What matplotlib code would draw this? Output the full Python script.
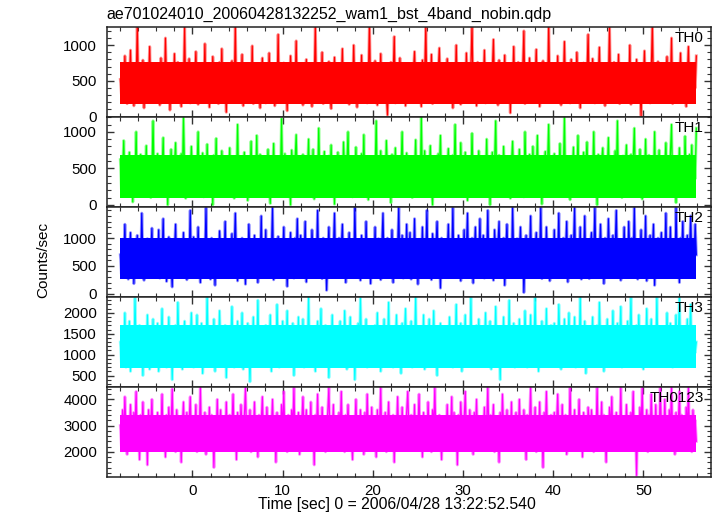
import numpy as np
import matplotlib
matplotlib.use('Agg')
import matplotlib.pyplot as plt
from matplotlib.ticker import MultipleLocator, FixedLocator

plt.rcParams['font.family'] = ['Liberation Sans', 'DejaVu Sans']

# light curves, counts/sec, one value every 0.125 s starting at t = -8 s
t_start = -8.0
dt = 0.125

th0 = [520, 310, 690, 240, 850, 400, 180, 620, 470, 930, 290, 560, 150, 740, 380, 1280, 440, 220, 610, 350, 790, 120, 510, 680, 260, 450, 980, 330, 570, 200, 710, 420,
       300, 650, 480, 160, 820, 370, 590, 250, 1100, 430, 270, 700, 90, 530, 640, 340, 880, 210, 460, 760, 310, 580, 140, 690, 400, 1250, 230, 520, 360, 810, 190, 470,
       620, 280, 540, 910, 330, 170, 720, 450, 260, 600, 380, 1020, 210, 490, 670, 130, 560, 300, 840, 410, 240, 630, 500, 180, 760, 350, 950, 270, 580, 430, 60, 690,
       380, 520, 230, 780, 460, 310, 1300, 200, 550, 650, 280, 420, 870, 150, 610, 370, 490, 720, 260, 540, 330, 990, 180, 460, 630, 250, 700, 400, 120, 570, 820, 340,
       470, 190, 640, 310, 890, 420, 260, 580, 700, 150, 510, 360, 1150, 280, 620, 440, 200, 750, 390, 530, 80, 660, 300, 850, 470, 220, 590, 380, 1060, 250, 480, 610,
       330, 700, 160, 540, 420, 800, 270, 630, 350, 490, 140, 730, 460, 1280, 220, 580, 400, 670, 300, 900, 180, 520, 620, 260, 450, 770, 340, 110, 600, 480, 830, 290,
       560, 240, 690, 380, 470, 950, 200, 610, 330, 520, 740, 170, 430, 640, 280, 1000, 390, 550, 130, 710, 460, 300, 860, 250, 580, 420, 680, 190, 500, 1300, 350, 620,
       410, 270, 780, 500, 160, 640, 360, 880, 230, 540, 450, 700, 310, 20, 590, 420, 760, 260, 530, 1120, 190, 480, 650, 340, 820, 280, 560, 400, 710, 150, 470, 600,
       300, 730, 450, 200, 620, 910, 340, 510, 250, 680, 410, 140, 790, 370, 560, 1270, 230, 490, 640, 310, 870, 180, 540, 420, 720, 260, 600, 960, 330, 450, 210, 660,
       490, 350, 810, 230, 570, 420, 700, 120, 630, 380, 1000, 270, 520, 460, 170, 740, 340, 610, 280, 890, 400, 550, 220, 680, 1300, 310, 480, 600, 150, 760, 390, 520,
       260, 640, 430, 930, 190, 560, 350, 720, 470, 240, 610, 1080, 320, 500, 680, 160, 790, 410, 280, 590, 450, 860, 210, 530, 370, 700, 50, 620, 440, 980, 300, 570,
       410, 760, 250, 540, 330, 650, 1200, 180, 480, 590, 310, 820, 420, 230, 700, 360, 520, 940, 270, 610, 140, 560, 450, 780, 320, 500, 680, 200, 1300, 390, 630, 350,
       540, 220, 690, 420, 850, 300, 580, 160, 720, 450, 1050, 260, 530, 380, 640, 190, 800, 470, 330, 590, 250, 900, 410, 680, 120, 560, 350, 750, 480, 210, 620, 1150,
       370, 600, 280, 810, 450, 190, 660, 390, 520, 970, 240, 570, 430, 700, 150, 630, 340, 480, 1260, 290, 550, 410, 760, 220, 600, 350, 870, 180, 510, 640, 300, 720,
       460, 250, 620, 380, 1000, 170, 550, 440, 690, 320, 800, 230, 580, 400, 10, 650, 470, 920, 270, 530, 360, 710, 190, 600, 1300, 310, 490, 640, 220, 770, 420, 560,
       330, 680, 450, 200, 590, 840, 290, 520, 410, 1100, 180, 630, 370, 740, 260, 560, 430, 890, 210, 600, 350, 680, 140, 520, 980, 310, 470, 620, 250, 710, 400, 850]

th1 = [620, 210, 450, 880, 300, 130, 560, 390, 720, 250, 470, 40, 610, 340, 1000, 180, 520, 410, 690, 270, 150, 580, 360, 810, 230, 490, 640, 100, 430, 1150, 310, 540,
       260, 700, 380, 160, 590, 450, 920, 200, 330, 650, 0, 480, 290, 760, 410, 140, 550, 850, 240, 620, 370, 180, 700, 300, 1200, 440, 90, 510, 660, 230, 380, 800,
       420, 150, 620, 330, 480, 1000, 220, 560, 360, 710, 110, 450, 260, 830, 390, 600, 170, 500, 0, 680, 340, 910, 250, 440, 570, 190, 740, 410, 130, 620, 300, 520,
       370, 780, 200, 540, 430, 90, 660, 310, 1100, 240, 480, 610, 160, 390, 720, 280, 520, 60, 640, 350, 870, 210, 460, 580, 300, 950, 150, 430, 690, 250, 510, 370,
       180, 600, 440, 760, 270, 20, 530, 380, 840, 230, 660, 420, 120, 570, 310, 1180, 260, 490, 700, 170, 400, 620, 330, 0, 750, 450, 210, 580, 960, 290, 470, 350,
       550, 240, 690, 380, 140, 610, 450, 900, 200, 520, 330, 760, 80, 480, 630, 270, 1050, 360, 190, 590, 420, 730, 250, 540, 130, 670, 390, 820, 300, 460, 10, 610,
       330, 720, 210, 480, 600, 160, 860, 390, 270, 550, 1000, 230, 440, 650, 110, 510, 370, 790, 260, 590, 180, 430, 700, 320, 960, 200, 560, 410, 70, 640, 350, 480,
       250, 580, 420, 1150, 190, 500, 340, 740, 130, 620, 380, 280, 880, 450, 210, 560, 30, 690, 400, 300, 780, 240, 510, 630, 160, 450, 1000, 290, 580, 360, 710, 180,
       470, 320, 650, 100, 540, 410, 890, 230, 370, 600, 170, 1200, 280, 500, 740, 350, 140, 590, 430, 810, 260, 0, 620, 380, 520, 200, 700, 460, 950, 240, 550, 330,
       610, 190, 480, 770, 300, 560, 120, 680, 400, 1100, 250, 430, 590, 160, 850, 330, 500, 220, 720, 390, 60, 600, 460, 280, 980, 350, 530, 180, 660, 410, 740, 270,
       420, 650, 150, 530, 360, 900, 240, 610, 0, 470, 720, 310, 560, 1150, 200, 440, 680, 270, 500, 130, 800, 380, 590, 230, 650, 410, 90, 560, 870, 320, 480, 210,
       580, 340, 760, 200, 490, 620, 110, 1000, 370, 530, 260, 690, 430, 170, 800, 300, 560, 400, 950, 220, 640, 350, 10, 580, 460, 730, 190, 520, 1100, 280, 610, 390,
       230, 700, 450, 140, 560, 380, 840, 260, 620, 410, 1200, 180, 500, 660, 320, 70, 590, 440, 790, 240, 530, 370, 950, 150, 610, 290, 480, 720, 200, 550, 860, 330,
       460, 190, 640, 380, 1000, 260, 520, 0, 690, 410, 230, 600, 780, 340, 140, 560, 450, 920, 280, 510, 650, 170, 430, 740, 360, 1150, 220, 580, 400, 100, 670, 310,
       540, 820, 250, 480, 370, 690, 160, 600, 1050, 300, 450, 560, 210, 760, 390, 80, 620, 340, 900, 250, 500, 680, 130, 440, 580, 320, 1000, 200, 530, 410, 750, 280,
       390, 610, 170, 520, 850, 330, 460, 240, 700, 1100, 190, 560, 420, 30, 640, 350, 780, 260, 500, 620, 160, 940, 380, 540, 270, 690, 430, 820, 220, 580, 360, 1050]

th2 = [700, 350, 980, 520, 1250, 430, 810, 260, 640, 1100, 380, 720, 180, 900, 560, 1050, 310, 780, 480, 1450, 620, 240, 860, 410, 990, 530, 290, 750, 1180, 460, 680, 340,
       920, 500, 1150, 280, 760, 610, 1350, 390, 840, 220, 680, 1020, 450, 570, 120, 880, 730, 1250, 360, 640, 980, 300, 790, 530, 1100, 420, 700, 250, 950, 600, 1500, 380,
       650, 1020, 310, 860, 470, 1200, 560, 200, 780, 950, 420, 690, 1550, 330, 870, 590, 260, 1000, 510, 760, 150, 920, 640, 400, 1130, 720, 350, 830, 580, 1300, 440, 680,
       290, 900, 620, 1080, 410, 750, 1450, 530, 230, 840, 680, 380, 1000, 560, 790, 170, 950, 470, 1250, 630, 310, 880, 520, 1050, 410, 740, 200, 970, 600, 1400, 360, 820,
       560, 1150, 330, 780, 960, 470, 700, 1550, 250, 880, 620, 420, 1030, 540, 300, 820, 680, 1200, 380, 950, 130, 720, 590, 1100, 460, 800, 280, 1000, 650, 1350, 420, 730,
       1050, 370, 860, 600, 1300, 210, 780, 520, 940, 440, 1150, 680, 310, 890, 560, 1500, 400, 760, 620, 270, 1000, 480, 830, 60, 700, 1200, 350, 920, 580, 780, 1450, 430,
       690, 310, 1000, 570, 820, 1250, 420, 740, 200, 960, 630, 1100, 380, 850, 500, 290, 1550, 670, 440, 900, 760, 240, 1050, 560, 820, 360, 1300, 610, 480, 970, 180, 720,
       880, 460, 1200, 330, 700, 990, 540, 250, 840, 1450, 410, 760, 620, 1000, 300, 870, 530, 1150, 200, 690, 940, 450, 780, 1550, 360, 610, 1050, 280, 830, 520, 1250, 400,
       740, 1100, 260, 920, 580, 1350, 430, 800, 170, 980, 650, 510, 1200, 370, 860, 720, 1500, 310, 940, 560, 250, 1080, 690, 440, 830, 1300, 520, 760, 100, 1000, 600, 880,
       350, 960, 720, 1250, 480, 820, 580, 1550, 300, 900, 660, 420, 1050, 780, 230, 930, 540, 1150, 410, 760, 1450, 330, 880, 620, 1000, 190, 730, 1200, 480, 850, 600, 1350,
       420, 790, 1050, 280, 900, 640, 1500, 370, 830, 560, 980, 240, 1150, 690, 450, 870, 1300, 310, 760, 590, 1000, 150, 820, 1250, 500, 700, 920, 360, 1550, 640, 440, 800,
       990, 330, 740, 1200, 560, 870, 20, 680, 1050, 420, 800, 600, 1400, 300, 930, 520, 760, 1100, 380, 850, 640, 1550, 270, 720, 980, 460, 1200, 580, 810, 230, 950, 680,
       500, 1150, 380, 820, 650, 1450, 290, 900, 560, 1000, 430, 760, 1300, 210, 880, 620, 1050, 470, 790, 1550, 340, 700, 960, 520, 1200, 260, 850, 600, 1400, 390, 740, 930,
       270, 860, 1100, 530, 760, 1550, 420, 950, 310, 700, 1250, 580, 880, 180, 1000, 640, 460, 1350, 720, 900, 350, 1050, 560, 800, 1500, 430, 680, 970, 240, 840, 620, 1200,
       560, 920, 410, 1300, 700, 330, 1000, 600, 1550, 480, 850, 260, 960, 720, 1150, 390, 810, 550, 1400, 230, 900, 670, 1050, 440, 780, 1250, 150, 870, 620, 1000, 360, 740,
       1100, 480, 830, 640, 1450, 290, 920, 560, 1200, 410, 760, 980, 330, 1550, 620, 850, 200, 1000, 700, 1300, 470, 880, 590, 1050, 350, 760, 1400, 520, 900, 640, 1250, 700]

th3 = [1300, 800, 1650, 1050, 2000, 700, 1400, 950, 1800, 600, 1250, 1550, 850, 2350, 1100, 1450, 750, 1700, 1000, 1350, 500, 1600, 1200, 900, 1950, 1150, 650, 1500, 1050, 1850, 800, 1300,
       1000, 1750, 600, 1400, 1150, 2100, 850, 1300, 1600, 700, 1200, 1900, 950, 1450, 400, 1350, 1100, 1700, 800, 2250, 1250, 1000, 1550, 650, 1400, 1800, 900, 1150, 1650, 750, 1300, 2000,
       1100, 700, 1500, 1250, 1950, 850, 1350, 1000, 1750, 550, 1200, 1600, 900, 2400, 1050, 1400, 750, 1650, 1150, 1850, 600, 1300, 1500, 950, 2050, 1100, 800, 1450, 1250, 1700, 450, 1350,
       1600, 900, 1300, 2150, 1050, 700, 1550, 1200, 1800, 850, 1400, 1000, 2000, 650, 1250, 1500, 950, 1750, 1100, 350, 1450, 1200, 1900, 800, 1350, 1050, 2300, 900, 1600, 1150, 750, 1400,
       1200, 1700, 800, 1350, 1050, 1950, 600, 1450, 1150, 1600, 900, 2200, 1250, 700, 1500, 1000, 1800, 850, 1400, 1100, 2050, 750, 1300, 1550, 950, 1750, 500, 1250, 1450, 1050, 1900, 800,
       1400, 1000, 1850, 700, 1300, 1550, 1100, 2400, 850, 1250, 1650, 950, 1450, 600, 1350, 1800, 1000, 1200, 2100, 750, 1500, 1150, 1700, 900, 1300, 450, 1600, 1050, 1950, 800, 1400, 1250,
       900, 1550, 1200, 1800, 750, 1350, 1000, 2050, 1150, 650, 1450, 1300, 1900, 850, 1250, 1600, 400, 1400, 1100, 1750, 950, 2350, 1200, 800, 1500, 1050, 1850, 700, 1300, 1650, 1000, 1450,
       1250, 800, 1700, 1100, 2000, 950, 1400, 600, 1550, 1200, 1850, 750, 1350, 1050, 2250, 900, 1500, 1150, 700, 1650, 1300, 1950, 850, 1200, 1450, 550, 1750, 1000, 1400, 2100, 950, 1300,
       1500, 1050, 1800, 700, 1350, 1150, 2380, 900, 1250, 1600, 800, 1450, 1000, 1950, 650, 1300, 1550, 1100, 1850, 750, 1400, 1200, 2050, 950, 1350, 500, 1650, 1150, 1750, 850, 1250, 1500,
       1000, 1650, 1300, 850, 1900, 1100, 1450, 700, 1600, 1250, 2200, 900, 1350, 1050, 1750, 600, 1400, 1200, 1950, 800, 1300, 1550, 1000, 2380, 950, 1450, 1150, 750, 1700, 1250, 1850, 900,
       1350, 750, 1550, 1200, 2000, 950, 1400, 1100, 1800, 650, 1300, 1650, 1000, 2150, 850, 1450, 1250, 400, 1600, 1100, 1900, 800, 1350, 1500, 1050, 2300, 900, 1400, 1200, 1750, 700, 1300,
       1600, 1000, 1850, 800, 1300, 1500, 950, 2050, 1200, 700, 1650, 1100, 1950, 850, 1400, 1250, 2380, 1000, 1450, 600, 1550, 1150, 1800, 900, 1350, 1050, 2100, 750, 1500, 1200, 1700, 950,
       1150, 1750, 850, 1400, 1000, 2200, 1300, 650, 1550, 1100, 1850, 950, 1450, 1200, 2000, 800, 1350, 1600, 1050, 1900, 700, 1250, 1500, 1000, 2380, 900, 1400, 1150, 1800, 550, 1300, 1650,
       950, 1450, 1200, 1900, 750, 1350, 1050, 1700, 850, 2250, 1250, 1000, 1550, 600, 1400, 1150, 1850, 900, 1300, 1650, 1050, 2050, 800, 1450, 1200, 1750, 950, 1350, 2150, 700, 1500, 1100,
       1400, 900, 1800, 1150, 1350, 2380, 1000, 1550, 750, 1300, 1700, 1050, 1950, 850, 1450, 1200, 650, 1600, 1100, 2100, 950, 1400, 1250, 1850, 800, 1350, 1550, 1000, 2380, 900, 1300, 1650,
       1200, 1600, 850, 1450, 1050, 2000, 900, 1350, 1750, 1100, 700, 1500, 1250, 1950, 950, 1400, 2380, 1050, 1300, 1650, 800, 1500, 1150, 1850, 1000, 1400, 2200, 900, 1350, 1600, 1050, 1300]

th0123 = [3000, 2200, 3600, 2500, 4100, 2800, 1900, 3300, 2400, 3800, 2700, 2100, 3500, 2900, 4300, 2300, 3100, 1700, 3400, 2600, 3900, 2200, 2900, 3200, 1500, 3600, 2500, 3000, 4000, 2400, 3300, 2800,
          2500, 3500, 2100, 3100, 2700, 4200, 2300, 3000, 1800, 3400, 2600, 3700, 2200, 2900, 4400, 2500, 3200, 2000, 3600, 2800, 2400, 3300, 1600, 3000, 3900, 2300, 2700, 3500, 2100, 3100, 4100, 2600,
          3200, 2400, 2900, 3800, 2000, 3300, 2600, 4450, 2300, 3000, 2700, 3500, 1900, 3100, 2500, 3700, 2200, 3400, 2800, 1400, 3200, 2600, 4000, 2400, 3000, 3600, 2100, 2900, 3300, 2500, 3900, 2300,
          2800, 3400, 2200, 3000, 4200, 2500, 3100, 1700, 3500, 2700, 2300, 3800, 2900, 2100, 3300, 4450, 2600, 3000, 2400, 3600, 2000, 3200, 2700, 3900, 2300, 2900, 1800, 3400, 2600, 3100, 4100, 2500,
          3100, 2300, 3700, 2700, 2100, 3300, 2900, 4000, 2400, 3000, 1600, 3500, 2600, 3200, 2200, 3800, 2800, 4300, 2500, 3100, 2000, 3400, 2700, 2300, 3600, 2900, 4450, 2400, 3000, 2600, 3500, 1900,
          2600, 3200, 4100, 2400, 2900, 3600, 2100, 3300, 2700, 3900, 2300, 3000, 1500, 3400, 2800, 4200, 2500, 3100, 2200, 3700, 2600, 3300, 2000, 2900, 3500, 4450, 2400, 3000, 2700, 3800, 2200, 3100,
          2900, 2100, 3500, 2700, 4300, 2400, 3100, 2000, 3400, 2800, 3800, 2300, 3000, 2600, 1700, 3300, 2900, 4000, 2500, 3200, 2200, 3600, 2800, 3000, 1900, 3500, 2400, 4200, 2700, 3100, 2300, 3700,
          2500, 3300, 2800, 1800, 3600, 2400, 3000, 4450, 2200, 3200, 2700, 3500, 2000, 2900, 3900, 2600, 3100, 2300, 3400, 1600, 3000, 2800, 4100, 2500, 3300, 2100, 3700, 2600, 3000, 2400, 3500, 4300,
          2700, 2200, 3400, 3000, 2500, 3800, 2100, 3200, 2800, 4200, 2400, 3000, 1800, 3500, 2600, 3300, 2300, 3900, 2700, 3100, 2000, 3600, 2900, 4450, 2500, 3000, 2200, 3400, 2800, 1700, 3200, 2600,
          3300, 2600, 3800, 2300, 3000, 2800, 4100, 2100, 3500, 2700, 3200, 1500, 3400, 2500, 3900, 2900, 2300, 3100, 4300, 2600, 3000, 2200, 3600, 2800, 3300, 1900, 3500, 2700, 4000, 2400, 3100, 2900,
          2400, 3200, 2700, 3700, 2100, 3000, 4450, 2600, 3400, 2300, 2900, 3800, 2000, 3300, 2700, 3100, 1600, 3500, 2500, 4200, 2800, 3000, 2200, 3600, 2600, 3200, 2400, 3900, 2100, 3000, 2800, 3500,
          3000, 2500, 4000, 2700, 3300, 2200, 3600, 2900, 1700, 3400, 2600, 3100, 4450, 2300, 3000, 2800, 3700, 2000, 3200, 2600, 3900, 2400, 3000, 1400, 3500, 2700, 4300, 2500, 3100, 2200, 3400, 2900,
          2600, 3500, 2300, 3000, 4200, 2700, 3200, 2100, 3800, 2500, 2900, 3400, 1900, 3100, 2700, 4450, 2400, 3300, 2800, 3600, 2200, 3000, 2600, 4000, 2500, 3200, 1800, 3500, 2900, 3100, 2300, 3700,
          3100, 2400, 3600, 2800, 2000, 3300, 2600, 4450, 2300, 3000, 2700, 3900, 2200, 3400, 2900, 1600, 3200, 2500, 3700, 2800, 4100, 2400, 3000, 2600, 3500, 2100, 3300, 2700, 4450, 2300, 3100, 2800,
          2500, 3800, 2700, 3200, 2100, 3500, 2900, 4300, 2400, 3000, 1100, 3300, 2600, 3700, 2800, 4450, 2300, 3100, 2700, 3600, 2000, 3400, 2500, 4200, 2900, 3000, 2200, 3800, 2600, 3300, 2400, 4450,
          2900, 3300, 2300, 4000, 2700, 3100, 2100, 3600, 2800, 4450, 2500, 3200, 1900, 3500, 2700, 3000, 4300, 2400, 3400, 2600, 3100, 2200, 3700, 2800, 4450, 2500, 3300, 2000, 3600, 2700, 3200, 2400]

# middle range where the trace is a solid block
core_lo = [180, 100, 260, 680, 1980]
core_hi = [760, 680, 1000, 1700, 3400]

names = ['TH0', 'TH1', 'TH2', 'TH3', 'TH0123']
series = [th0, th1, th2, th3, th0123]
colors = ['#ff0000', '#00ff00', '#0000ff', '#00ffff', '#ff00ff']
ylims = [(-10, 1250), (-30, 1200), (-60, 1560), (230, 2380), (1050, 4480)]
yticks = [[0, 500, 1000], [0, 500, 1000], [0, 500, 1000], [500, 1000, 1500, 2000], [2000, 3000, 4000]]
yminor = [100, 100, 100, 100, 200]

fig = plt.figure(figsize=(7.17, 5.16), dpi=100)
gs = fig.add_gridspec(5, 1, left=0.149, right=0.9916, bottom=0.0762, top=0.947, hspace=0)
axes = [fig.add_subplot(gs[i]) for i in range(5)]

for i, ax in enumerate(axes):
    y = np.array(series[i], dtype=float)
    t = t_start + dt * np.arange(len(y))
    ax.fill_between([t[0], t[-1]], core_lo[i], core_hi[i], color=colors[i], lw=0)
    # wide pale pass under a thin one, like the blurred edge of the dense trace
    ax.plot(t, y, color=colors[i], lw=2.2, alpha=0.4)
    ax.plot(t, y, color=colors[i], lw=0.9)

    ax.set_xlim(-9.5, 57.5)
    ax.set_ylim(*ylims[i])
    ax.xaxis.set_major_locator(MultipleLocator(10))
    ax.xaxis.set_minor_locator(MultipleLocator(2))
    ax.yaxis.set_major_locator(FixedLocator(yticks[i]))
    ax.yaxis.set_minor_locator(MultipleLocator(yminor[i]))
    ax.tick_params(which='both', direction='in', top=True, right=True, labelsize=10.8,
                   color='#333333', pad=7)
    ax.tick_params(which='major', length=5, width=1)
    ax.tick_params(which='minor', length=3, width=0.8)
    for s in ax.spines.values():
        s.set_linewidth(1.1)
        s.set_color('#222222')
    if i < 4:
        ax.tick_params(labelbottom=False)
    ax.text(0.988, 0.88, names[i], transform=ax.transAxes, ha='right', va='center', fontsize=11)

axes[-1].tick_params(axis='x', pad=5)

fig.text(0.149, 1 - 14 / 516, 'ae701024010_20060428132252_wam1_bst_4band_nobin.qdp',
         ha='left', va='center', fontsize=11.5)
fig.text(43 / 717, 1 - 260 / 516, 'Counts/sec', rotation=90, ha='center', va='center', fontsize=11)
fig.text(397 / 717, 1 - 504 / 516, 'Time [sec] 0 = 2006/04/28 13:22:52.540',
         ha='center', va='center', fontsize=11.3)

fig.savefig('out.png', dpi=100)
